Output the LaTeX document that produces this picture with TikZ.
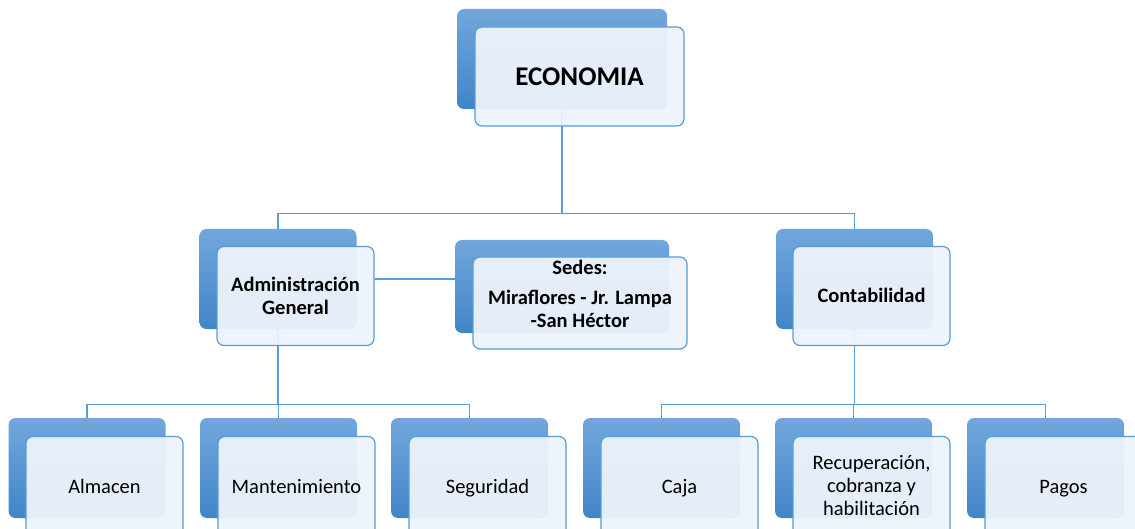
\documentclass[tikz,border=0pt]{standalone}
\usepackage{fontspec}
\setmainfont{Carlito}
\definecolor{backtop}{RGB}{114,167,220}
\definecolor{backbot}{RGB}{64,133,201}
\definecolor{frontfill}{RGB}{237,243,251}
\definecolor{edgeblue}{RGB}{91,155,213}
\tikzset{
  backbox/.style={rectangle, rounded corners=7pt, top color=backtop, bottom color=backbot,
    draw=none, minimum width=157pt, minimum height=100pt, inner sep=0pt},
  frontbox/.style={rectangle, rounded corners=7pt, fill=frontfill, fill opacity=0.95,
    text opacity=1, draw=edgeblue, line width=1.2pt, minimum width=157pt, minimum height=99pt,
    inner sep=0pt, align=center, text=black, font=\fontsize{20.5}{23}\selectfont},
  oneline/.style={text height=19pt, text depth=5pt},
  boldtext/.style={font=\fontsize{20.5}{23}\selectfont\bfseries},
  conn/.style={draw=edgeblue, line width=1.3pt},
}
\begin{document}
\begin{tikzpicture}[x=1pt,y=-1pt]
\useasboundingbox (0,0) rectangle (1135,529);
\clip (0,0) rectangle (1135,529);
% back boxes
\node[backbox, minimum width=210pt] (econB) at (562,59) {};
\node[backbox] (adminB) at (278,279) {};
\node[backbox, minimum width=214pt, minimum height=93pt] (sedesB) at (562,286.5) {};
\node[backbox] (contB) at (854.5,279) {};
\node[backbox] (almB) at (87,468) {};
\node[backbox] (manB) at (278.5,468) {};
\node[backbox] (segB) at (469.5,468) {};
\node[backbox] (cajaB) at (661.5,468) {};
\node[backbox] (recB) at (853.5,468) {};
\node[backbox] (pagB) at (1045.5,468) {};
% connectors
\path (econB.south) ++(0,104) coordinate (bus1);
\path (adminB.south) ++(0,75) coordinate (bus2);
\path (contB.south) ++(0,75) coordinate (bus3);
\draw[conn] (econB.south) -- (bus1);
\draw[conn] (bus1) -| (adminB.north);
\draw[conn] (bus1) -| (contB.north);
\draw[conn] (adminB.south) -- (bus2);
\draw[conn] (bus2) -| (almB.north);
\draw[conn] (bus2) -| (manB.north);
\draw[conn] (bus2) -| (segB.north);
\draw[conn] (contB.south) -- (bus3);
\draw[conn] (bus3) -| (cajaB.north);
\draw[conn] (bus3) -| (recB.north);
\draw[conn] (bus3) -| (pagB.north);
% front boxes
\node[frontbox, minimum width=209pt, font=\fontsize{27}{30}\selectfont\bfseries] (econ) at (579.5,76.5) {ECONOMIA};
\node[frontbox, boldtext] (admin) at (295.5,296) {Administración\\General};
\node[frontbox, minimum width=214pt, minimum height=92pt] (sedes) at (580,303) {};
\node[boldtext, align=center, inner sep=0pt] (sedesText) at (580,294) {Sedes:\\[6.5pt]Miraflores - Jr. Lampa\\{}-San Héctor};
\node[frontbox, boldtext, oneline] (cont) at (871.5,296) {Contabilidad};
\node[frontbox, oneline] (alm) at (104.5,486) {Almacen};
\node[frontbox, oneline] (man) at (296.5,486) {Mantenimiento};
\node[frontbox, oneline] (seg) at (487.5,486) {Seguridad};
\node[frontbox, oneline] (caja) at (679.5,486) {Caja};
\node[frontbox] (rec) at (871.5,486) {Recuperación,\\cobranza y\\habilitación};
\node[frontbox, oneline] (pag) at (1063.5,486) {Pagos};
\draw[conn] (admin.east |- adminB.east) -- (sedesB.west |- adminB.east);
\end{tikzpicture}
\end{document}
